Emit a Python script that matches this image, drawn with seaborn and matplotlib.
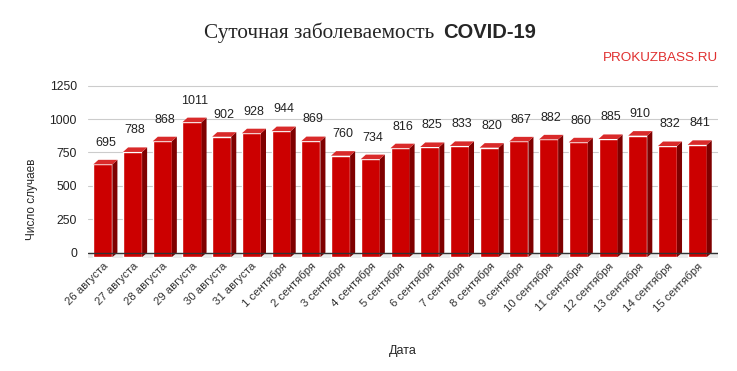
import pandas as pd
import matplotlib.pyplot as plt
import seaborn as sns
from matplotlib.patches import Polygon

dates = ['26 августа', '27 августа', '28 августа', '29 августа', '30 августа', '31 августа',
         '1 сентября', '2 сентября', '3 сентября', '4 сентября', '5 сентября', '6 сентября',
         '7 сентября', '8 сентября', '9 сентября', '10 сентября', '11 сентября', '12 сентября',
         '13 сентября', '14 сентября', '15 сентября']
cases = [695, 788, 868, 1011, 902, 928, 944, 869, 760, 734, 816, 825,
         833, 820, 867, 882, 860, 885, 910, 832, 841]

df = pd.DataFrame({'Дата': dates, 'Случаи': cases})

sns.set_style('white')
plt.rcParams['font.family'] = ['Liberation Sans', 'DejaVu Sans']

fig = plt.figure(figsize=(7.37, 3.71), dpi=100)
ax = fig.add_axes([0.1194, 0.3046, 0.8548, 0.468])

sns.barplot(data=df, x='Дата', y='Случаи', color='#cc0000', saturation=1,
            width=0.64, ax=ax, zorder=3)
bars = list(ax.patches)

# псевдо-3D: боковая грань и верх
dx, dy = 0.17, 34
ax.axhspan(-dy, 0, color='#ebebeb', zorder=1)
for p in bars:
    x0 = p.get_x()
    x1 = x0 + p.get_width()
    v = p.get_height()
    p.set_y(-dy)
    side = Polygon([(x1, -dy), (x1 + dx, 0), (x1 + dx, v), (x1, v - dy)],
                   closed=True, facecolor='#7f0000', edgecolor='none', zorder=3)
    top = Polygon([(x0, v - dy), (x0 + dx, v), (x1 + dx, v), (x1, v - dy)],
                  closed=True, facecolor='#d92a2a', edgecolor='none', zorder=3)
    ax.add_patch(side)
    ax.add_patch(top)
    ax.annotate(f'{v:.0f}', (x0 + p.get_width() / 2 + dx / 2, v), xytext=(0, 8),
                textcoords='offset points', ha='center', va='bottom', fontsize=9,
                color='#222222')

ax.set_xlim(-0.5, 20.7)
ax.set_ylim(-40, 1260)
ax.set_yticks([0, 250, 500, 750, 1000, 1250])
ax.yaxis.grid(True, color='#cccccc', linewidth=0.8, zorder=0)
ax.axhline(0, color='#333333', linewidth=1, zorder=4)
for s in ax.spines.values():
    s.set_visible(False)
ax.tick_params(axis='y', length=0, pad=8, labelsize=8.8, labelcolor='#222222')
ax.tick_params(axis='x', length=0, pad=2, labelsize=8.2, labelcolor='#333333')
plt.setp(ax.get_xticklabels(), rotation=45, ha='right', rotation_mode='anchor')

ax.set_xlabel('Дата', fontsize=9)
ax.set_ylabel('Число случаев', fontsize=8.5)
ax.yaxis.set_label_coords(-0.08, 0.34)
ax.xaxis.set_label_coords(0.5, -0.50)

fig.text(434 / 737, 0.897, 'Суточная заболеваемость', ha='right', va='baseline',
         fontsize=15.3, family=['Liberation Serif', 'DejaVu Serif'])
fig.text(443 / 737, 0.897, 'COVID-19', ha='left', va='baseline',
         fontsize=14.5, fontweight='bold')
fig.text(718 / 737, 1 - 58 / 371, 'PROKUZBASS.RU', ha='right', va='center',
         fontsize=9.7, color='#e03030')

plt.savefig('out.png', dpi=100)
